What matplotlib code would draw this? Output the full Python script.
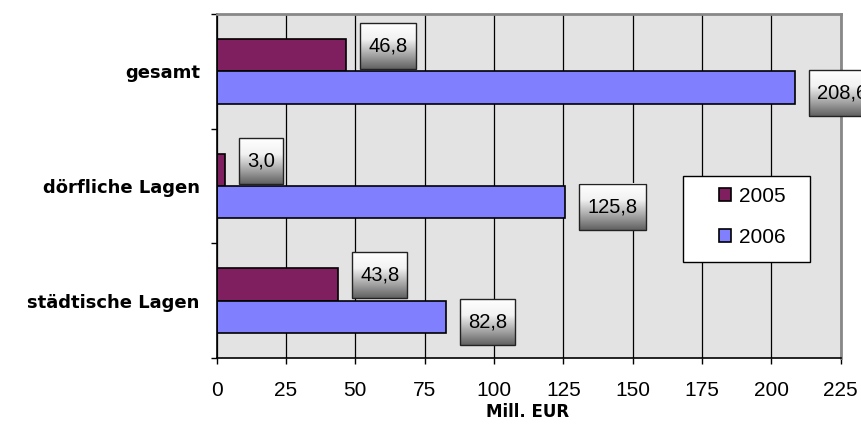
import numpy as np
import matplotlib
matplotlib.use("Agg")
import matplotlib.pyplot as plt
from matplotlib.patches import Rectangle
from matplotlib.colors import LinearSegmentedColormap

plt.rcParams["font.family"] = ["Liberation Sans", "DejaVu Sans"]

categories = ["gesamt", "dörfliche Lagen", "städtische Lagen"]
years = ["2005", "2006"]
values_2005 = [46.8, 3.0, 43.8]
values_2006 = [208.6, 125.8, 82.8]
x_ticks = [0, 25, 50, 75, 100, 125, 150, 175, 200, 225]
x_label = "Mill. EUR"

col_2005 = "#7F1F5F"
col_2006 = "#8080FF"
bar_h = 0.283
W, H = 861, 440


def fmt(v):
    return "{:.1f}".format(v).replace(".", ",")


fig = plt.figure(figsize=(W / 100, H / 100), dpi=100)
ax = fig.add_axes([216.5 / W, 1 - 358 / H, (840.7 - 216.5) / W, 344 / H])
ax.set_facecolor("#E3E3E3")

pos = np.arange(len(categories))
b05 = ax.barh(pos - bar_h / 2, values_2005, height=bar_h, color=col_2005,
              edgecolor="black", lw=1.2, zorder=2)
b06 = ax.barh(pos + bar_h / 2, values_2006, height=bar_h, color=col_2006,
              edgecolor="black", lw=1.2, zorder=2)

ax.set_xlim(0, 225)
ax.set_ylim(2.5, -0.5)
ax.set_autoscale_on(False)

# x axis
ax.set_xticks(x_ticks)
ax.set_xticklabels([str(t) for t in x_ticks])
ax.tick_params(axis="x", length=4.3, width=1, pad=12, labelsize=15)
ax.xaxis.grid(True, color="black", lw=0.9)
ax.set_axisbelow(True)

# y axis: ticks between groups, names at group centres
ax.set_yticks([-0.5, 0.5, 1.5, 2.5])
ax.set_yticklabels([])
ax.tick_params(axis="y", which="major", length=4.3, width=1)
ax.set_yticks(pos, minor=True)
ax.set_yticklabels(categories, minor=True, fontfamily="DejaVu Sans",
                   fontweight="bold", fontsize=13)
ax.tick_params(axis="y", which="minor", length=0, pad=12)

for s in ["top", "right"]:
    ax.spines[s].set_color("#888888")
    ax.spines[s].set_linewidth(2)
for s in ["left", "bottom"]:
    ax.spines[s].set_color("black")
    ax.spines[s].set_linewidth(1.2)

# value labels
texts = []
for ys, vals, dy in [(pos - bar_h / 2, values_2005, 9),
                     (pos + bar_h / 2, values_2006, -5)]:
    for y, v in zip(ys, vals):
        t = ax.annotate(fmt(v), xy=(v, y), xytext=(22, dy),
                        textcoords="offset pixels", ha="left", va="center",
                        fontsize=14.5, zorder=6, annotation_clip=False)
        texts.append(t)

fig.canvas.draw()
renderer = fig.canvas.get_renderer()
inv = ax.transData.inverted()
grad = np.linspace(0, 1, 200)[:, None]
cmap = LinearSegmentedColormap.from_list(
    "lbl", [(0, "white"), (0.35, "#f2f2f2"), (1, "#616161")])
for t in texts:
    e = t.get_window_extent(renderer)
    yc = (e.y0 + e.y1) / 2
    (x0, y0), (x1, y1) = inv.transform([(e.x0 - 8, yc - 23), (e.x1 + 8, yc + 23)])
    ax.imshow(grad, extent=[x0, x1, y0, y1], origin="upper", aspect="auto",
              cmap=cmap, zorder=4, clip_on=False, interpolation="bilinear")
    ax.add_patch(Rectangle((x0, y0), x1 - x0, y1 - y0, fill=False,
                           ec="#222222", lw=1, zorder=5, clip_on=False))

ax.set_xlim(0, 225)
ax.set_ylim(2.5, -0.5)

# legend
ax.add_patch(Rectangle((0.747, 0.279), 0.204, 0.25, transform=ax.transAxes,
                       fc="white", ec="black", lw=1, zorder=3))
ax.legend(handles=[b05, b06], labels=years, loc="center left",
          bbox_to_anchor=((719 - 216.5) / 624.2, 0.410), frameon=False,
          fontsize=15, handlelength=0.58, handleheight=0.58,
          handletextpad=0.4, labelspacing=1.09, borderpad=0, borderaxespad=0)

fig.text(528 / W, 1 - 412 / H, x_label, ha="center", va="center",
         fontfamily="DejaVu Sans", fontweight="bold", fontsize=12)

fig.savefig("out.png", dpi=100)
